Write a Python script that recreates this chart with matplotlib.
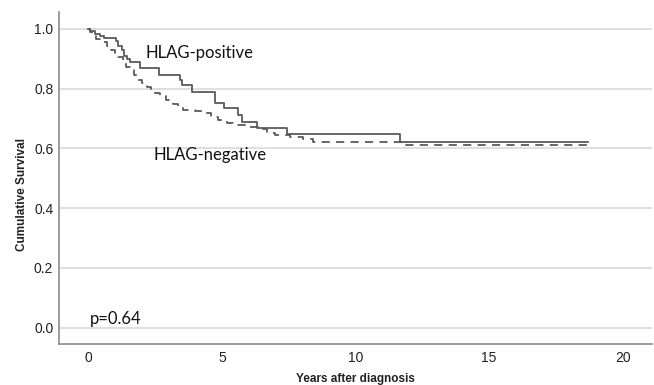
import numpy as np
import matplotlib
matplotlib.use("Agg")
import matplotlib.pyplot as plt

# Kaplan-Meier step points (years, cumulative survival)
pos_years = [0, 0.05, 0.25, 0.45, 0.6, 1.05, 1.12, 1.25, 1.32, 1.45, 1.55, 1.92, 2.63,
             3.45, 3.52, 3.87, 4.74, 5.08, 5.6, 5.75, 6.32, 7.44, 11.65, 18.72]
pos_surv = [1.0, 0.993, 0.984, 0.977, 0.970, 0.960, 0.944, 0.928, 0.910, 0.900, 0.888, 0.870, 0.846,
            0.830, 0.813, 0.790, 0.753, 0.736, 0.712, 0.689, 0.667, 0.648, 0.621, 0.621]

neg_years = [0, 0.05, 0.15, 0.3, 0.5, 0.7, 0.85, 1.0, 1.1, 1.3, 1.4, 1.55, 1.7, 1.85, 2.0,
             2.2, 2.35, 2.5, 2.67, 2.9, 3.16, 3.35, 3.53, 3.98, 4.42, 4.6, 4.85, 5.19, 5.41,
             5.94, 6.35, 6.69, 7.0, 7.56, 8.05, 8.42, 11.7, 18.83]
neg_surv = [1.0, 0.99, 0.98, 0.965, 0.955, 0.943, 0.93, 0.92, 0.906, 0.89, 0.873, 0.863, 0.846,
            0.83, 0.82, 0.806, 0.795, 0.785, 0.775, 0.763, 0.750, 0.740, 0.729, 0.724, 0.718,
            0.707, 0.696, 0.686, 0.679, 0.672, 0.666, 0.652, 0.645, 0.639, 0.632, 0.622, 0.611, 0.611]

y_ticks = [0.0, 0.2, 0.4, 0.6, 0.8, 1.0]
x_ticks = [0, 5, 10, 15, 20]

line_col = "#5a5a5a"
grid_col = "#d9d9d9"
axis_col = "#8c8c8c"

fig = plt.figure(figsize=(6.54, 3.85), dpi=100)
ax = fig.add_axes([0.090, 0.106, 0.907, 0.863])

ax.step(pos_years, pos_surv, where="post", color=line_col, lw=1.3)
ax.step(neg_years, neg_surv, where="post", color=line_col, lw=1.3,
        linestyle=(0, (4.5, 3.5)))

ax.set_xlim(-1.1, 21.1)
ax.set_ylim(-0.055, 1.057)
ax.set_xticks(x_ticks)
ax.set_yticks(y_ticks)
ax.set_xticklabels([str(t) for t in x_ticks])
ax.set_yticklabels([f"{t:.1f}" for t in y_ticks])
ax.tick_params(length=0, labelsize=10, labelcolor="#222222")
ax.tick_params(axis="x", pad=5)
ax.tick_params(axis="y", pad=4)
for lab in ax.get_xticklabels() + ax.get_yticklabels():
    lab.set_family("Liberation Sans")

ax.yaxis.grid(True, color=grid_col, lw=1.2)
ax.set_axisbelow(True)
for side in ["top", "right"]:
    ax.spines[side].set_visible(False)
for side in ["left", "bottom"]:
    ax.spines[side].set_color(axis_col)
    ax.spines[side].set_linewidth(1.2)

ax.set_xlabel("Years after diagnosis", fontsize=8.5, fontweight="bold",
              family="Liberation Sans", color="#222222", labelpad=6)
ax.set_ylabel("Cumulative Survival", fontsize=8.5, fontweight="bold",
              family="Liberation Sans", color="#222222")
ax.yaxis.set_label_coords(-0.052, 0.45)

ax.text(2.15, 0.92, "HLAG-positive", fontsize=12, family="Lato",
        color="#111111", va="center", ha="left")
ax.text(2.45, 0.578, "HLAG-negative", fontsize=12, family="Lato",
        color="#111111", va="center", ha="left")
ax.text(0.05, 0.03, "p=0.64", fontsize=12, family="Lato",
        color="#111111", va="center", ha="left")

fig.savefig("out.png", dpi=100)
